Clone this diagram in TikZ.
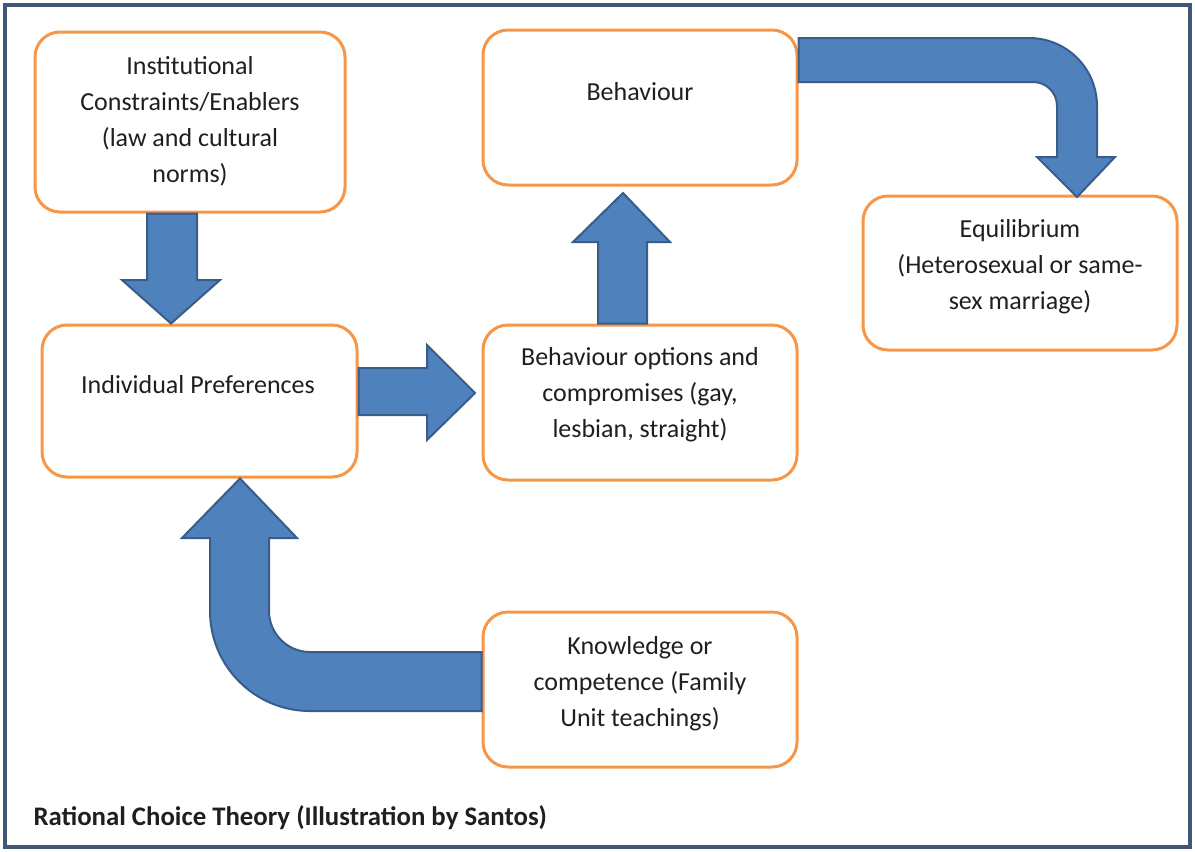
\documentclass[tikz,border=0pt]{standalone}
\usepackage{fontspec}
\setmainfont{Carlito}
\definecolor{boxorange}{HTML}{F79646}
\definecolor{arrowblue}{HTML}{4F81BD}
\definecolor{arrowline}{HTML}{385D8A}
\definecolor{framecol}{RGB}{65,87,118}
\tikzset{
  box/.style={draw=boxorange, line width=3pt, rounded corners=25pt},
  txt/.style={align=center, text=black!88, font=\fontsize{26}{36}\selectfont},
  blockarrow/.style={fill=arrowblue, draw=arrowline, line width=2pt, line join=miter}
}
\begin{document}
\begin{tikzpicture}[x=1pt,y=-1pt]
\useasboundingbox (0,0) rectangle (1195,852);
\draw[framecol, line width=4.5pt] (5,5) rectangle (1190,847);

% boxes
\node[box, minimum width=310pt, minimum height=180pt] (inst) at (190,122) {};
\node[box, minimum width=315pt, minimum height=152pt] (pref) at (199.5,401) {};
\node[box, minimum width=314pt, minimum height=155pt] (behav) at (640,107.5) {};
\node[box, minimum width=314pt, minimum height=155pt] (opts) at (640,402.5) {};
\node[box, minimum width=314pt, minimum height=154pt] (equil) at (1020,273) {};
\node[box, minimum width=314pt, minimum height=155pt] (know) at (640,689.5) {};

\node[txt] (insttxt) at (190,121.5) {Institutional\\Constraints/Enablers\\(law and cultural\\norms)};
\node[txt] (preftxt) at (198,385) {Individual Preferences};
\node[txt] (behavtxt) at (640,92) {Behaviour};
\node[txt] (optstxt) at (640,394.5) {Behaviour options and\\compromises (gay,\\lesbian, straight)};
\node[txt] (equiltxt) at (1020,266.5) {Equilibrium\\(Heterosexual or same-\\sex marriage)};
\node[txt] (knowtxt) at (640,684) {Knowledge or\\competence (Family\\Unit teachings)};

% block arrows
\filldraw[blockarrow] (147,0 |- inst.south) -- (147,280) -- (122,280) -- (171,0 |- pref.north)
  -- (220,280) -- (197,280) -- (197,0 |- inst.south) -- cycle;
\filldraw[blockarrow] (pref.east |- 0,368) -- (427,368) -- (427,345) -- (475,393)
  -- (427,440) -- (427,415) -- (pref.east |- 0,415) -- cycle;
\filldraw[blockarrow] (598,0 |- opts.north) -- (598,242) -- (573,242) -- (623,193)
  -- (670,242) -- (647,242) -- (647,0 |- opts.north) -- cycle;
% bent arrows
\filldraw[blockarrow] (behav.east |- 0,38) -- (1029,38) .. controls (1066.6,38) and (1097,68.4) .. (1097,106)
  -- (1097,157) -- (1115,157) -- (1077,197) -- (1037,157) -- (1057,157) -- (1057,106)
  .. controls (1057,92.7) and (1046.3,82) .. (1033,82) -- (behav.east |- 0,82) -- cycle;
\filldraw[blockarrow] (know.west |- 0,652) -- (310,652) .. controls (287.4,652) and (269,633.6) .. (269,611)
  -- (269,538) -- (297,538) -- (240,0 |- pref.south) -- (182,538) -- (210,538) -- (210,611)
  .. controls (210,666.2) and (254.8,711) .. (310,711) -- (know.west |- 0,711) -- cycle;

\node[anchor=west, text=black!88, font=\bfseries\fontsize{26.8}{32}\selectfont] (caption) at (30,818)
  {Rational Choice Theory (Illustration by Santos)};
\end{tikzpicture}
\end{document}
